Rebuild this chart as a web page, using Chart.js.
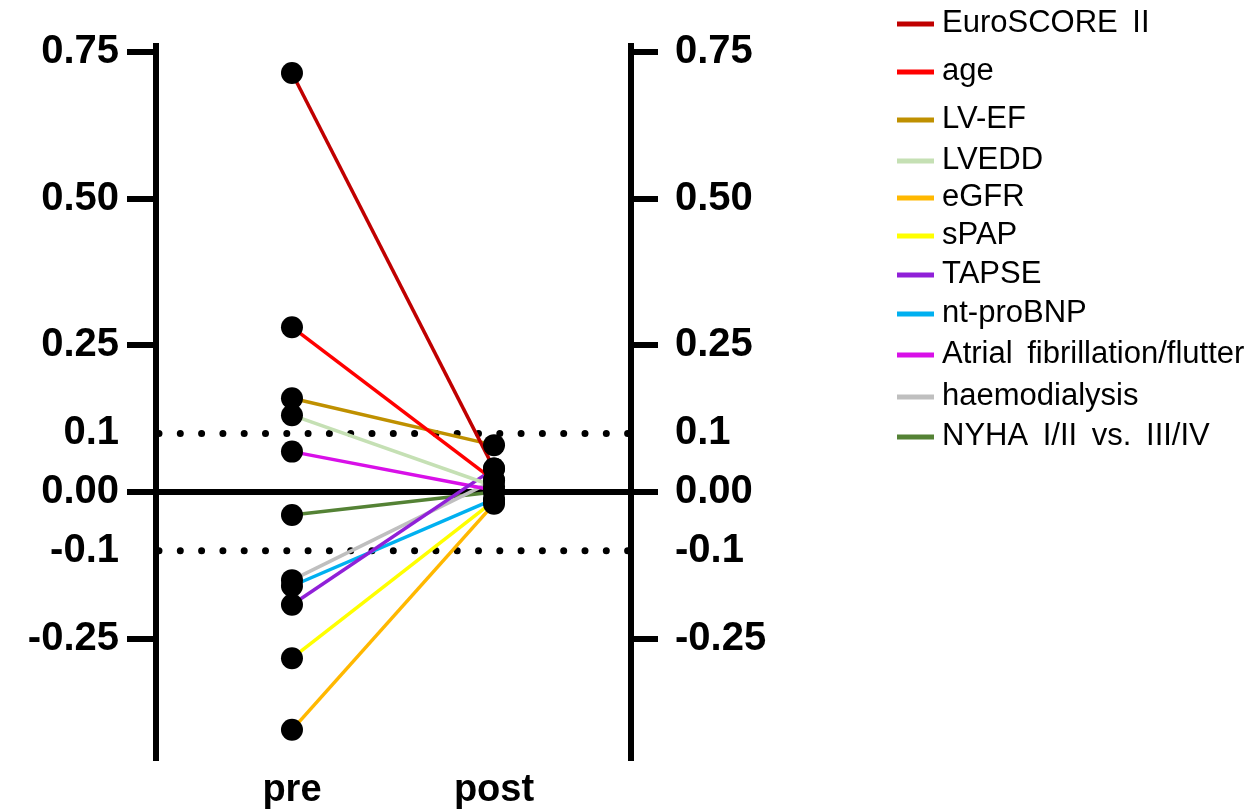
<!DOCTYPE html>
<html>
<head>
<meta charset="utf-8">
<script src="https://cdn.jsdelivr.net/npm/chart.js@4"></script>
<style>
  html, body { margin: 0; padding: 0; background: #fff; }
  #wrap { position: relative; width: 1249px; height: 811px; }
</style>
</head>
<body>
<div id="wrap"><canvas id="myChart"></canvas></div>
<script>
// time points (x axis)
var timepoints = ['pre', 'post'];
// variables, one line each
var variables = ['EuroSCORE II', 'age', 'LV-EF', 'LVEDD', 'eGFR', 'sPAP', 'TAPSE',
                 'nt-proBNP', 'Atrial fibrillation/flutter', 'haemodialysis', 'NYHA I/II vs. III/IV'];
var preValues  = [0.714, 0.281, 0.160, 0.131, -0.405, -0.283, -0.192, -0.160, 0.069, -0.150, -0.039];
var postValues = [0.040, 0.020, 0.080, 0.010, -0.020, -0.015, 0.040, -0.012, 0.003, 0.020, 0.000];
var lineColors = ['#C00000', '#FF0000', '#BF9000', '#C5E0B4', '#FFB800', '#FFFF00', '#9020D8',
                  '#00B0F0', '#D810E8', '#BFBFBF', '#548235'];
// y ticks and their labels
var yTicks      = [-0.25, -0.1, 0, 0.1, 0.25, 0.5, 0.75];
var yTickLabels = ['-0.25', '-0.1', '0.00', '0.1', '0.25', '0.50', '0.75'];
var markedTicks = [-0.25, 0, 0.25, 0.5, 0.75]; // ticks that get a tick mark
var refLines = [0.1, -0.1];                    // dotted lines

var legendRowY = [24, 72, 120, 161, 198, 236, 275, 314, 355, 397, 437];
var FONT = '"Liberation Sans", Arial, sans-serif';

// dotted reference lines
var dottedLines = {
  id: 'dottedLines',
  beforeDatasetsDraw: function (chart) {
    var c = chart.ctx, a = chart.chartArea, ys = chart.scales.y;
    c.save();
    c.strokeStyle = '#000';
    c.lineWidth = 7;
    c.lineCap = 'round';
    c.setLineDash([0, 21.3]);
    refLines.forEach(function (v) {
      var py = ys.getPixelForValue(v);
      c.beginPath();
      c.moveTo(a.left + 3, py);
      c.lineTo(a.right, py);
      c.stroke();
    });
    c.restore();
  }
};

// legend on the right
var sideLegend = {
  id: 'sideLegend',
  afterDraw: function (chart) {
    var c = chart.ctx;
    c.save();
    c.font = '31px ' + FONT;
    if ('wordSpacing' in c) c.wordSpacing = '6px';
    c.textBaseline = 'middle';
    c.fillStyle = '#000';
    variables.forEach(function (name, i) {
      var y = legendRowY[i];
      c.strokeStyle = lineColors[i];
      c.lineWidth = 5;
      c.beginPath();
      c.moveTo(897, y);
      c.lineTo(934, y);
      c.stroke();
      c.fillText(name, 942, y - 1);
    });
    c.restore();
  }
};

var datasets = [];
var allPoints = [];
variables.forEach(function (name, i) {
  datasets.push({
    label: name,
    data: [{ x: 0, y: preValues[i] }, { x: 1, y: postValues[i] }],
    showLine: true,
    borderColor: lineColors[i],
    borderWidth: 3.5,
    pointRadius: 0,
    yAxisID: 'y'
  });
  allPoints.push({ x: 0, y: preValues[i] }, { x: 1, y: postValues[i] });
});
datasets.push({
  label: 'points',
  data: allPoints,
  pointRadius: 11,
  pointBackgroundColor: '#000',
  pointBorderWidth: 0,
  order: -1,
  yAxisID: 'y'
});

function setYTicks(scale) {
  scale.ticks = yTicks.map(function (v) { return { value: v }; });
}
function tickMarkColor(ctx) {
  return markedTicks.indexOf(ctx.tick.value) >= 0 ? '#000' : 'rgba(0,0,0,0)';
}

var ctx = document.getElementById('myChart').getContext('2d');
var myChart = new Chart(ctx, {
  type: 'scatter',
  data: { datasets: datasets },
  options: {
    responsive: true,
    maintainAspectRatio: false,
    animation: false,
    layout: { padding: { top: 46, left: 0, right: 0, bottom: 0 } },
    plugins: { legend: { display: false }, tooltip: { enabled: false } },
    scales: {
      x: {
        type: 'linear',
        min: -0.673,
        max: 1.678,
        afterBuildTicks: function (scale) {
          scale.ticks = timepoints.map(function (t, i) { return { value: i }; });
        },
        afterFit: function (scale) { scale.height = 53; },
        grid: { display: false },
        border: { display: false },
        ticks: {
          padding: 2,
          color: '#000',
          font: { family: FONT, size: 38, weight: 'bold' },
          callback: function (v) { return timepoints[v]; }
        }
      },
      y: {
        position: 'left',
        min: -0.453,
        max: 0.76,
        afterBuildTicks: setYTicks,
        afterFit: function (scale) { scale.width = 156; },
        border: { color: '#000', width: 6 },
        grid: {
          color: function (c) { return c.tick && c.tick.value === 0 ? '#000' : 'rgba(0,0,0,0)'; },
          lineWidth: 6,
          tickWidth: 6,
          tickLength: 29,
          tickColor: tickMarkColor
        },
        ticks: {
          autoSkip: false,
          padding: 8,
          color: '#000',
          font: { family: FONT, size: 40, weight: 'bold' },
          callback: function (v, i) { return yTickLabels[i]; }
        }
      },
      y2: {
        position: 'right',
        min: -0.453,
        max: 0.76,
        afterBuildTicks: setYTicks,
        afterFit: function (scale) { scale.width = 1249 - 631; },
        border: { color: '#000', width: 6 },
        grid: {
          drawOnChartArea: false,
          lineWidth: 6,
          tickWidth: 6,
          tickLength: 27,
          tickColor: tickMarkColor
        },
        ticks: {
          autoSkip: false,
          padding: 17,
          color: '#000',
          font: { family: FONT, size: 40, weight: 'bold' },
          callback: function (v, i) { return yTickLabels[i]; }
        }
      }
    }
  },
  plugins: [dottedLines, sideLegend]
});
</script>
</body>
</html>
